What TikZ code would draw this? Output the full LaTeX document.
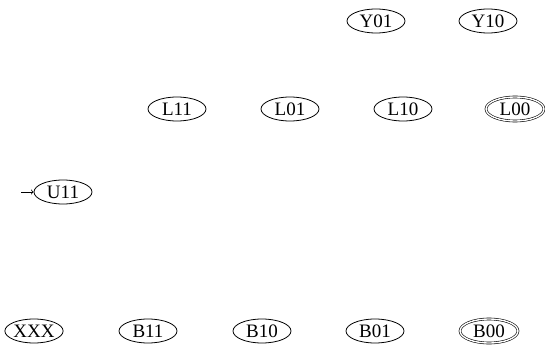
\documentclass[tikz,border=0pt]{standalone}
\usepackage{fontspec}
\setmainfont{Liberation Serif}
\usetikzlibrary{shapes.geometric}
\begin{document}
\begin{tikzpicture}[x=1pt,y=-1pt,line width=0.8pt,
        st/.style={draw,ellipse,minimum width=58pt,minimum height=24pt,inner sep=0pt,font=\fontsize{19}{19}\selectfont},
        acc/.style={st,double,double distance=1.4pt,line width=0.6pt}]
        \useasboundingbox (0,0) rectangle (545,347);
        \node[st] (Y01) at (376,21) {Y01};
        \node[st] (Y10) at (488,21) {Y10};
        \node[st] (L11) at (177,109) {L11};
        \node[st] (L01) at (290,109) {L01};
        \node[st] (L10) at (403,109) {L10};
        \node[acc] (L00) at (515,109) {L00};
        \node[st] (U11) at (63,192) {U11};
        \node[st] (XXX) at (34,331) {XXX};
        \node[st] (B11) at (148,331) {B11};
        \node[st] (B10) at (262,331) {B10};
        \node[st] (B01) at (375,331) {B01};
        \node[acc] (B00) at (489,331) {B00};
        \coordinate (start) at (21,192);
        \draw[->] (start) -- (U11);
    \end{tikzpicture}
\end{document}
